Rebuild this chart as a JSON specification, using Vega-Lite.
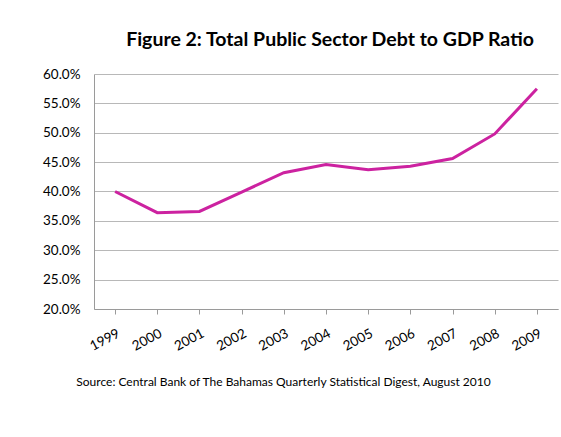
{
  "$schema": "https://vega.github.io/schema/vega-lite/v6.json",
  "width": 464,
  "height": 235,
  "autosize": "none",
  "padding": {"left": 94, "top": 74, "right": 3, "bottom": 128},
  "background": "white",
  "title": {
    "text": "Figure 2: Total Public Sector Debt to GDP Ratio",
    "font": "Lato",
    "fontSize": 19.5,
    "fontWeight": "bold",
    "color": "#000000",
    "anchor": "middle",
    "dx": 4,
    "offset": 17
  },
  "data": {
    "values": [
      {"year": "1999", "ratio": 0.400},
      {"year": "2000", "ratio": 0.364},
      {"year": "2001", "ratio": 0.366},
      {"year": "2002", "ratio": 0.399},
      {"year": "2003", "ratio": 0.432},
      {"year": "2004", "ratio": 0.446},
      {"year": "2005", "ratio": 0.437},
      {"year": "2006", "ratio": 0.443},
      {"year": "2007", "ratio": 0.456},
      {"year": "2008", "ratio": 0.498},
      {"year": "2009", "ratio": 0.575}
    ]
  },
  "mark": {"type": "line", "color": "#CC22A0", "strokeWidth": 3},
  "encoding": {
    "x": {
      "field": "year",
      "type": "ordinal",
      "scale": {"type": "point", "padding": 0.5},
      "axis": {
        "title": "Source: Central Bank of The Bahamas Quarterly Statistical Digest, August 2010",
        "titleFont": "Lato",
        "titleFontSize": 12,
        "titleFontWeight": "normal",
        "titleColor": "#000000",
        "titleX": 189,
        "titleY": 72,
        "titleAnchor": "middle",
        "titleBaseline": "middle",
        "labelAngle": -28,
        "labelFont": "Lato",
        "labelFontSize": 13.5,
        "labelColor": "#000000",
        "labelPadding": 12,
        "domainColor": "#9a9a9a",
        "tickColor": "#9a9a9a",
        "tickSize": 5,
        "grid": false
      }
    },
    "y": {
      "field": "ratio",
      "type": "quantitative",
      "scale": {"domain": [0.2, 0.6], "nice": false, "zero": false},
      "axis": {
        "title": null,
        "format": ".1%",
        "values": [0.2, 0.25, 0.3, 0.35, 0.4, 0.45, 0.5, 0.55, 0.6],
        "labelFont": "Lato",
        "labelFontSize": 13.5,
        "labelColor": "#000000",
        "labelPadding": 14,
        "ticks": false,
        "domainColor": "#9a9a9a",
        "gridColor": "#b8b8b8",
        "gridWidth": 1
      }
    }
  },
  "config": {"view": {"stroke": null}}
}
